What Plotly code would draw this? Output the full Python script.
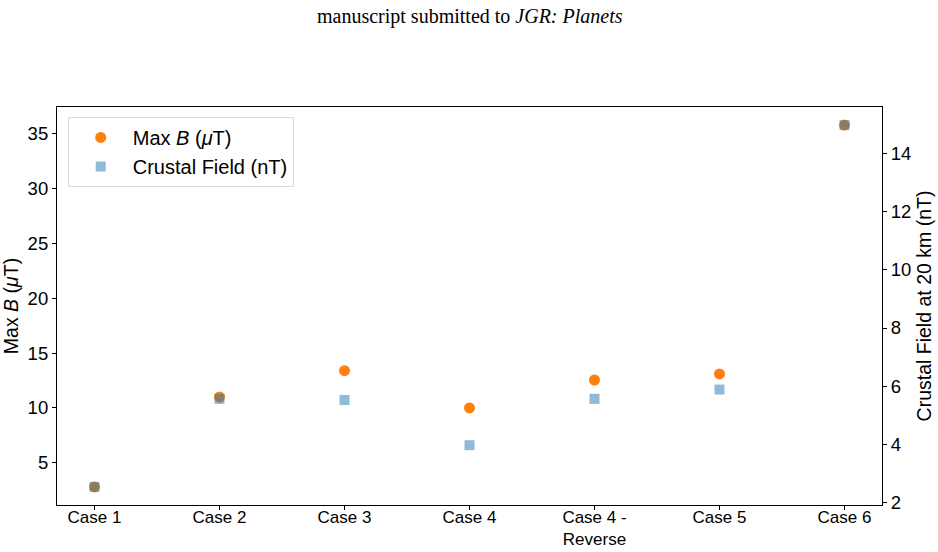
import plotly.graph_objects as go

cases = ["Case 1", "Case 2", "Case 3", "Case 4", "Case 4 -<br>Reverse", "Case 5", "Case 6"]
max_b = [2.8, 11.0, 13.4, 10.0, 12.55, 13.1, 35.8]
crustal = [2.55, 5.57, 5.53, 3.98, 5.57, 5.89, 14.96]

left_ticks = [5, 10, 15, 20, 25, 30, 35]
right_ticks = [2, 4, 6, 8, 10, 12, 14]

FONT = "Liberation Sans, Arial, Helvetica, sans-serif"

fig = go.Figure()
fig.add_trace(go.Scatter(
    x=cases, y=max_b, mode="markers", name="Max <i>B</i> (<i>μ</i>T)",
    marker=dict(symbol="circle", size=11, color="#ff7f0e", line=dict(width=0)),
    yaxis="y", cliponaxis=False))
fig.add_trace(go.Scatter(
    x=cases, y=crustal, mode="markers", name="Crustal Field (nT)",
    marker=dict(symbol="square", size=10, color="rgba(31,119,180,0.5)", line=dict(width=0)),
    yaxis="y2", cliponaxis=False))

axis_common = dict(showline=True, linecolor="black", linewidth=1.2, ticks="outside",
                   ticklen=4, tickwidth=1, tickcolor="black", showgrid=False, zeroline=False,
                   automargin=False,
                   tickfont=dict(family=FONT, size=18.5, color="black"))

fig.update_layout(
    width=938, height=552,
    margin=dict(l=57, r=56, t=107, b=47),
    paper_bgcolor="white", plot_bgcolor="white",
    font=dict(family=FONT, color="black"),
    xaxis=dict(**axis_common, type="category", range=[-0.3, 6.3], mirror=True,
               ticklabelstandoff=-8),
    yaxis=dict(**axis_common, range=[1.15, 37.45], tickvals=left_ticks,
               title=dict(text="Max <i>B</i> (<i>μ</i>T)", font=dict(family=FONT, size=19.5), standoff=6)),
    yaxis2=dict(**axis_common, range=[1.93, 15.58], tickvals=right_ticks, overlaying="y", side="right",
                title=dict(text="Crustal Field at 20 km (nT)", font=dict(family=FONT, size=19.5), standoff=6)),
    legend=dict(x=0.013, y=0.975, xanchor="left", yanchor="top",
                bgcolor="rgba(255,255,255,0.8)", bordercolor="#d9d9d9", borderwidth=1,
                font=dict(family=FONT, size=20, color="black"), itemwidth=54,
                tracegroupgap=2),
    showlegend=True,
    annotations=[dict(text="manuscript submitted to <i>JGR: Planets</i>", x=0.5, y=16, xref="paper",
                      yref="paper", showarrow=False,
                      font=dict(family="Liberation Serif, Times New Roman, serif", size=20, color="black"))],
)
fig.layout.annotations[0].update(y=1 + (107 - 16) / (552 - 107 - 47), yanchor="middle")
fig.layout.xaxis.tickfont.size = 17

fig.write_html("out.html")
